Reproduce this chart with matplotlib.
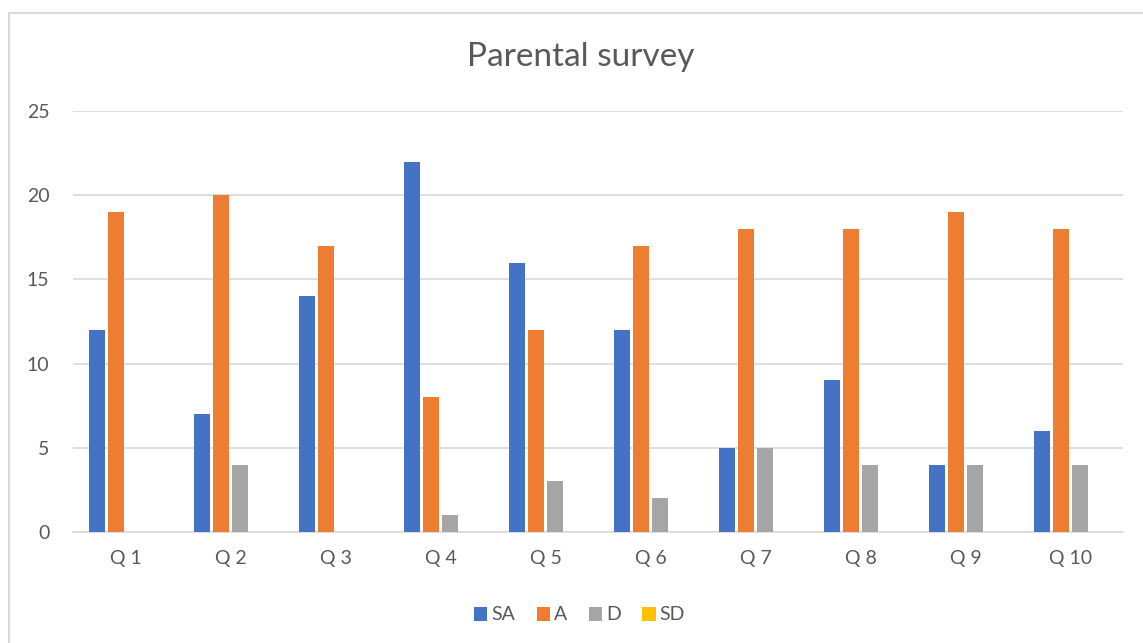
import matplotlib.pyplot as plt
import numpy as np
from matplotlib.patches import Rectangle

plt.rcParams['font.family'] = ['Lato', 'DejaVu Sans']

questions = ['Q 1', 'Q 2', 'Q 3', 'Q 4', 'Q 5', 'Q 6', 'Q 7', 'Q 8', 'Q 9', 'Q 10']
series = ['SA', 'A', 'D', 'SD']
sa = [12, 7, 14, 22, 16, 12, 5, 9, 4, 6]
a = [19, 20, 17, 8, 12, 17, 18, 18, 19, 18]
d = [0, 4, 0, 1, 3, 2, 5, 4, 4, 4]
sd = [0, 0, 0, 0, 0, 0, 0, 0, 0, 0]
colors = ['#4472C4', '#ED7D31', '#A5A5A5', '#FFC000']

txt = '#595959'
fig = plt.figure(figsize=(11.43, 6.43), dpi=100)
ax = fig.add_axes([73 / 1143, 1 - 532 / 643, 1050 / 1143, 421 / 643])

# рамка диаграммы (обрезана справа и снизу)
fig.patches.append(Rectangle((9 / 1143, -0.1), 1.2, 0.1 + 1 - 13 / 643,
                             transform=fig.transFigure, fill=False,
                             edgecolor='#D9D9D9', linewidth=1.5))

x = np.arange(len(questions))
w = 0.143
step = 0.181
for i, (vals, name) in enumerate(zip([sa, a, d, sd], series)):
    ax.bar(x + (i - 1.5) * step, vals, width=w, color=colors[i], label=name, zorder=3)

ax.set_xlim(-0.5, len(questions) - 0.5)
ax.set_ylim(0, 25)
ax.set_yticks(range(0, 26, 5))
ax.set_xticks(x)
ax.set_xticklabels(questions)
ax.tick_params(axis='both', length=0, labelsize=14, colors=txt)
ax.tick_params(axis='x', pad=13)
ax.tick_params(axis='y', pad=17)
ax.grid(axis='y', color='#D9D9D9', linewidth=1.2, zorder=0)
for s in ['top', 'right', 'left']:
    ax.spines[s].set_visible(False)
ax.spines['bottom'].set_color('#D9D9D9')
ax.spines['bottom'].set_linewidth(1.2)

fig.text(0.508, 1 - 57 / 643, 'Parental survey', ha='center', va='center',
         fontsize=24, color=txt)
fig.legend(loc='center', bbox_to_anchor=(0.507, 1 - 615 / 643), ncol=4,
           frameon=False, fontsize=14, handlelength=0.7, handleheight=0.7,
           handletextpad=0.2, columnspacing=1.1, labelcolor=txt)

fig.savefig('out.png', dpi=100)
